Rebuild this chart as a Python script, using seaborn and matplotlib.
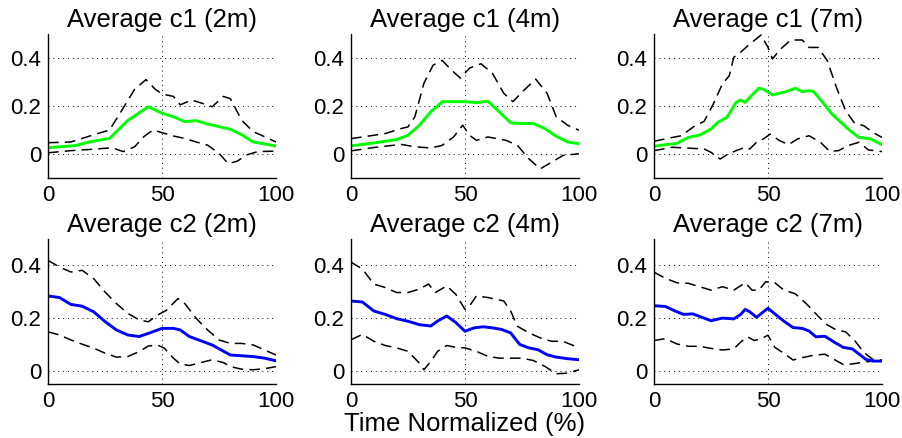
import matplotlib
matplotlib.use("Agg")
import matplotlib.pyplot as plt
import seaborn as sns
import pandas as pd

sns.set_theme(style="white")
plt.rcParams["font.family"] = ["Liberation Sans", "DejaVu Sans"]

# ---- c1 (top row) ----
c1_2m_mean_x = [0, 12, 18, 27, 35, 44, 50, 55, 60, 65, 70, 75, 80, 85, 90, 95, 100]
c1_2m_mean = [0.026, 0.035, 0.05, 0.065, 0.14, 0.197, 0.17, 0.155, 0.135, 0.139, 0.125,
              0.114, 0.103, 0.08, 0.05, 0.042, 0.033]
c1_2m_up_x = [0, 10, 20, 27, 32, 38, 43, 47, 50, 55, 58, 63, 68, 72, 77, 80, 85, 90, 95, 100]
c1_2m_up = [0.047, 0.05, 0.08, 0.1, 0.176, 0.27, 0.31, 0.27, 0.25, 0.24, 0.205, 0.225,
            0.21, 0.197, 0.24, 0.23, 0.14, 0.093, 0.072, 0.05]
c1_2m_lo_x = [0, 10, 20, 28, 33, 38, 42, 46, 50, 55, 60, 65, 70, 75, 79, 83, 87, 92, 100]
c1_2m_lo = [0.005, 0.014, 0.02, 0.026, 0.01, 0.03, 0.072, 0.1, 0.089, 0.075, 0.065,
            0.05, 0.037, 0.003, -0.04, -0.03, -0.004, 0.01, 0.012]

c1_4m_mean_x = [0, 10, 20, 25, 30, 35, 40, 45, 50, 55, 60, 65, 70, 75, 80, 85, 90, 95, 100]
c1_4m_mean = [0.034, 0.046, 0.06, 0.078, 0.12, 0.176, 0.218, 0.218, 0.218, 0.214, 0.22,
              0.176, 0.13, 0.127, 0.127, 0.106, 0.074, 0.05, 0.043]
c1_4m_up_x = [0, 5, 15, 22, 25, 28, 32, 36, 40, 44, 48, 52, 57, 62, 67, 71, 76, 81, 86,
              90, 95, 100]
c1_4m_up = [0.064, 0.071, 0.085, 0.106, 0.113, 0.155, 0.295, 0.37, 0.39, 0.35, 0.316,
            0.358, 0.376, 0.337, 0.253, 0.218, 0.267, 0.312, 0.253, 0.155, 0.12, 0.099]
c1_4m_lo_x = [0, 10, 22, 28, 35, 40, 45, 49, 52, 55, 60, 68, 73, 78, 83, 88, 93, 100]
c1_4m_lo = [0.013, 0.027, 0.04, 0.03, 0.025, 0.036, 0.071, 0.12, 0.078, 0.057, 0.071,
            0.057, 0.036, -0.02, -0.062, -0.034, -0.006, 0.001]

c1_7m_mean_x = [0, 5, 10, 15, 20, 25, 28, 32, 36, 38, 40, 43, 46, 48, 52, 55, 58, 62,
                65, 68, 70, 74, 78, 82, 86, 90, 95, 100]
c1_7m_mean = [0.032, 0.039, 0.044, 0.069, 0.079, 0.104, 0.132, 0.153, 0.215, 0.225,
              0.215, 0.246, 0.274, 0.27, 0.246, 0.253, 0.26, 0.274, 0.26, 0.264, 0.26,
              0.215, 0.167, 0.132, 0.097, 0.069, 0.063, 0.039]
c1_7m_up_x = [0, 7, 12, 18, 22, 26, 30, 33, 35, 38, 42, 47, 50, 52, 55, 60, 65, 68, 72,
              76, 80, 84, 88, 92, 96, 100]
c1_7m_up = [0.053, 0.067, 0.076, 0.118, 0.136, 0.208, 0.292, 0.326, 0.403, 0.424, 0.458,
            0.496, 0.444, 0.396, 0.433, 0.475, 0.475, 0.444, 0.444, 0.389, 0.278, 0.181,
            0.128, 0.118, 0.09, 0.069]
c1_7m_lo_x = [0, 8, 16, 22, 25, 29, 32, 36, 40, 42, 45, 48, 51, 55, 59, 63, 68, 73, 77,
              81, 85, 90, 94, 100]
c1_7m_lo = [0.014, 0.028, 0.024, 0.021, 0.007, -0.021, -0.003, 0.014, 0.028, 0.021,
            0.049, 0.063, 0.083, 0.056, 0.039, 0.063, 0.076, 0.049, 0.011, 0.014, 0.035,
            0.049, 0.017, 0.01]

# ---- c2 (bottom row) ----
c2_2m_mean_x = [0, 5, 10, 15, 20, 25, 30, 35, 40, 45, 50, 55, 58, 62, 67, 72, 76, 80,
                85, 90, 95, 100]
c2_2m_mean = [0.284, 0.278, 0.252, 0.245, 0.224, 0.187, 0.155, 0.136, 0.13, 0.145, 0.161,
              0.161, 0.155, 0.13, 0.114, 0.098, 0.079, 0.06, 0.057, 0.054, 0.048, 0.038]
c2_2m_up_x = [0, 5, 10, 15, 20, 25, 30, 35, 40, 44, 48, 52, 57, 60, 65, 70, 75, 80, 85,
              90, 95, 100]
c2_2m_up = [0.419, 0.394, 0.375, 0.381, 0.35, 0.299, 0.255, 0.218, 0.193, 0.186, 0.211,
            0.23, 0.274, 0.255, 0.199, 0.155, 0.117, 0.104, 0.104, 0.098, 0.079, 0.06]
c2_2m_lo_x = [0, 5, 10, 15, 20, 25, 30, 35, 40, 44, 48, 51, 55, 58, 62, 66, 72, 77, 80,
              85, 90, 95, 100]
c2_2m_lo = [0.148, 0.136, 0.117, 0.101, 0.086, 0.067, 0.052, 0.054, 0.073, 0.094, 0.098,
            0.086, 0.048, 0.026, 0.02, 0.029, 0.042, 0.031, 0.016, 0.006, 0.004, 0.008,
            0.016]

c2_4m_mean_x = [0, 5, 10, 15, 20, 25, 30, 35, 38, 42, 46, 50, 54, 58, 62, 66, 70, 74, 78,
                82, 86, 90, 95, 100]
c2_4m_mean = [0.265, 0.261, 0.227, 0.214, 0.198, 0.188, 0.175, 0.17, 0.189, 0.208, 0.183,
              0.15, 0.163, 0.167, 0.163, 0.157, 0.144, 0.1, 0.087, 0.08, 0.061, 0.052,
              0.046, 0.042]
c2_4m_up_x = [0, 5, 10, 15, 20, 25, 30, 34, 37, 42, 46, 50, 52, 55, 60, 67, 70, 73, 78,
              83, 88, 93, 100]
c2_4m_up = [0.412, 0.386, 0.329, 0.316, 0.297, 0.297, 0.31, 0.329, 0.297, 0.322, 0.29,
            0.233, 0.246, 0.284, 0.278, 0.265, 0.227, 0.169, 0.144, 0.125, 0.112, 0.112,
            0.087]
c2_4m_lo_x = [0, 5, 10, 15, 20, 25, 30, 32, 35, 38, 42, 46, 50, 55, 60, 65, 70, 75, 80,
              85, 90, 95, 100]
c2_4m_lo = [0.118, 0.138, 0.112, 0.096, 0.087, 0.074, 0.029, 0.004, 0.036, 0.074, 0.096,
            0.089, 0.087, 0.074, 0.055, 0.048, 0.048, 0.048, 0.039, 0.017, -0.011,
            -0.009, 0.004]

c2_7m_mean_x = [0, 5, 10, 13, 17, 21, 25, 30, 35, 38, 40, 42, 45, 48, 50, 53, 57, 61, 65,
                68, 71, 75, 79, 83, 87, 90, 93, 96, 100]
c2_7m_mean = [0.247, 0.244, 0.224, 0.214, 0.216, 0.203, 0.19, 0.2, 0.197, 0.214, 0.233,
              0.224, 0.203, 0.224, 0.237, 0.216, 0.188, 0.164, 0.161, 0.151, 0.129, 0.131,
              0.109, 0.089, 0.083, 0.063, 0.043, 0.037, 0.037]
c2_7m_up_x = [0, 5, 10, 15, 20, 25, 30, 35, 40, 43, 46, 49, 53, 57, 62, 67, 72, 76, 80,
              84, 88, 92, 96, 100]
c2_7m_up = [0.374, 0.351, 0.334, 0.332, 0.319, 0.306, 0.319, 0.306, 0.334, 0.306, 0.306,
            0.338, 0.334, 0.306, 0.292, 0.253, 0.207, 0.174, 0.155, 0.148, 0.115, 0.07,
            0.043, 0.041]
c2_7m_lo_x = [0, 5, 10, 15, 20, 25, 30, 35, 38, 41, 44, 47, 50, 53, 57, 61, 65, 70, 75,
              79, 83, 87, 92, 96, 100]
c2_7m_lo = [0.115, 0.122, 0.102, 0.093, 0.093, 0.085, 0.079, 0.083, 0.109, 0.129, 0.115,
            0.122, 0.135, 0.089, 0.066, 0.041, 0.05, 0.059, 0.063, 0.043, 0.024, 0.026,
            0.033, 0.037, 0.037]

titles = ["Average c1 (2m)", "Average c1 (4m)", "Average c1 (7m)",
          "Average c2 (2m)", "Average c2 (4m)", "Average c2 (7m)"]
panels = [
    (c1_2m_mean_x, c1_2m_mean, c1_2m_up_x, c1_2m_up, c1_2m_lo_x, c1_2m_lo),
    (c1_4m_mean_x, c1_4m_mean, c1_4m_up_x, c1_4m_up, c1_4m_lo_x, c1_4m_lo),
    (c1_7m_mean_x, c1_7m_mean, c1_7m_up_x, c1_7m_up, c1_7m_lo_x, c1_7m_lo),
    (c2_2m_mean_x, c2_2m_mean, c2_2m_up_x, c2_2m_up, c2_2m_lo_x, c2_2m_lo),
    (c2_4m_mean_x, c2_4m_mean, c2_4m_up_x, c2_4m_up, c2_4m_lo_x, c2_4m_lo),
    (c2_7m_mean_x, c2_7m_mean, c2_7m_up_x, c2_7m_up, c2_7m_lo_x, c2_7m_lo),
]
mean_colors = ["#00ff00"] * 3 + ["#0000ff"] * 3

fig = plt.figure(figsize=(9.03, 4.38), dpi=100)
W, H = 903, 438
lefts = [48, 351, 654]
rows = [(34, 178, -0.1), (239, 384, -0.05)]  # top px, bottom px, ymin

for i, (mx, my, ux, uy, lx, ly) in enumerate(panels):
    r, c = divmod(i, 3)
    top, bot, ymin = rows[r]
    ax = fig.add_axes([lefts[c] / W, 1 - bot / H, 228 / W, (bot - top) / H])

    sns.lineplot(x=ux, y=uy, ax=ax, color="black", linewidth=1.1,
                 estimator=None, sort=False)
    sns.lineplot(x=lx, y=ly, ax=ax, color="black", linewidth=1.1,
                 estimator=None, sort=False)
    for ln in ax.lines:
        ln.set_dashes((7, 4))
    sns.lineplot(x=mx, y=my, ax=ax, color=mean_colors[i], linewidth=2.1,
                 estimator=None, sort=False)

    ax.set_xlim(0, 100)
    ax.set_ylim(ymin, 0.5)
    ax.set_xticks([0, 50, 100])
    ax.set_yticks([0, 0.2, 0.4])
    ax.set_yticklabels(["0", "0.2", "0.4"])
    ax.grid(True, color="black", linewidth=0.7, linestyle=(0, (1, 4)))
    ax.tick_params(length=0, labelsize=16, pad=5, colors="black")
    for side in ["top", "right"]:
        ax.spines[side].set_visible(False)
    for side in ["left", "bottom"]:
        ax.spines[side].set_color("black")
        ax.spines[side].set_linewidth(1.0)
    ax.set_title(titles[i], fontsize=18.5, pad=5, color="black")
    ax.set_xlabel("")
    ax.set_ylabel("")
    if i == 4:
        ax.set_xlabel("Time Normalized (%)", fontsize=18.5, labelpad=0, color="black")

fig.savefig("out.png", dpi=100)
